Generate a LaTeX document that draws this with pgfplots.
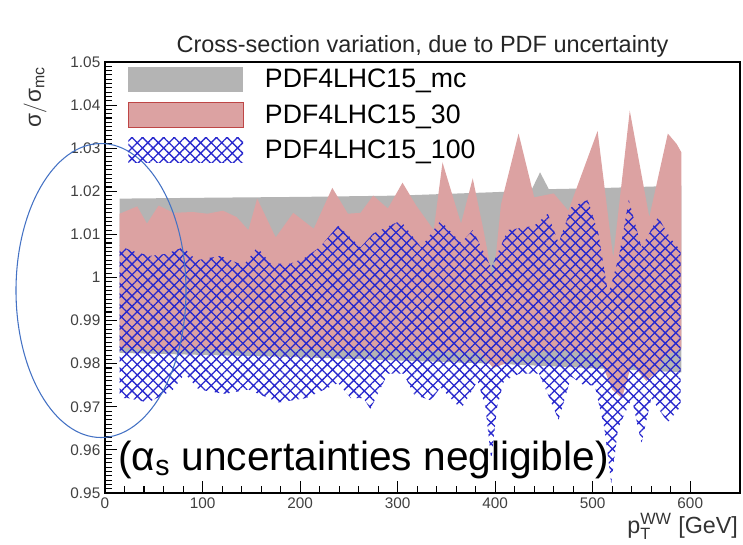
\documentclass[border=0pt]{standalone}
\usepackage{fontspec}
\setmainfont{Liberation Sans}
\usepackage{amsmath}
\usepackage{pgfplots}
\pgfplotsset{compat=1.18}
\usepgfplotslibrary{fillbetween}
\usetikzlibrary{patterns.meta}
\definecolor{mcgray}{RGB}{180,180,180}
\definecolor{pdfpink}{RGB}{220,162,162}
\definecolor{pdfred}{RGB}{190,70,70}
\definecolor{hatchblue}{RGB}{40,40,205}
\definecolor{ellblue}{RGB}{68,114,196}

\begin{document}
\begin{tikzpicture}
\begin{axis}[
  scale only axis, width=476.25pt, height=323.25pt,
  xmin=0, xmax=651, ymin=0.95, ymax=1.05,
  axis line style={line width=0.9pt},
  tick pos=left, tick align=inside,
  xtick={0,100,...,600}, minor x tick num=4,
  ytick={0.95,0.96,...,1.05}, minor y tick num=9,
  major tick length=9pt, minor tick length=5pt,
  every tick/.style={black, line width=0.8pt},
  tick label style={font=\fontsize{11.5}{13}\selectfont, text=black!75},
  /pgf/number format/assume math mode=true,
  yticklabel style={/pgf/number format/fixed, /pgf/number format/precision=2},
  title={Cross-section variation, due to PDF uncertainty},
  title style={at={(axis description cs:0.5,1)}, anchor=base, yshift=1.5pt, font=\fontsize{17.6}{19}\selectfont, text=black!85},
  xlabel={p$_{\text{T}}^{\text{WW}}$ [GeV]},
  xlabel style={at={(axis description cs:1,0)}, anchor=north east, yshift=-12pt, xshift=2pt, font=\fontsize{17.5}{19}\selectfont, text=black!80},
  ylabel={$\text{σ}/\text{σ}_{\text{mc}}$},
  ylabel style={at={(axis description cs:-0.11,1)}, anchor=east, rotate=0, font=\fontsize{17}{19}\selectfont, text=black!80},
  clip=false,
  legend style={at={(axis description cs:0,1)}, anchor=north west, xshift=17pt, yshift=-3pt,
    draw=none, fill=none, inner sep=0pt, row sep=7pt,
    font=\fontsize{20}{22}\selectfont,
    /tikz/every odd column/.append style={column sep=14pt}},
  legend cell align=left,
]
% ---------- PDF4LHC15_mc (grey) ----------
\addplot[name path=mcTop, draw=none, forget plot] coordinates {
(15,1.0183) (100,1.0185) (200,1.0187) (300,1.0190) (400,1.0198) (437,1.0202) (446,1.0244) (455,1.0205) (500,1.0207) (591,1.0213)};
\addplot[name path=mcBot, draw=none, forget plot] coordinates {
(15,0.9825) (200,0.9815) (400,0.9800) (591,0.9780)};
\addplot[fill=mcgray, draw=none,
  legend image code/.code={\path[fill=mcgray] (0pt,-9.5pt) rectangle (86pt,9.5pt);}]
  fill between[of=mcTop and mcBot];
\addlegendentry{PDF4LHC15\_mc}
% ---------- PDF4LHC15_30 (pink) ----------
\addplot[name path=p30Top, draw=none, forget plot] coordinates {
(15,1.0148) (33,1.0165) (43,1.0125) (55,1.0167) (70,1.0150) (90,1.0152) (105,1.0148) (121,1.0155) (135,1.0140) (147,1.0110) (156,1.0183) (175,1.0093) (193,1.0150) (214,1.0113) (233,1.0208) (249,1.0148) (262,1.0150) (275,1.0190) (290,1.0160) (305,1.0220) (319,1.0167) (337,1.0110) (346,1.0267) (365,1.0125) (377,1.0230) (388,1.0110) (398,0.9990) (406,1.0170) (424,1.0334) (440,1.0186) (460,1.0195) (475,1.0155) (505,1.0340) (521,1.0046) (538,1.0387) (558,1.0140) (577,1.0334) (586,1.0310) (591,1.0290)};
\addplot[name path=p30Bot, draw=none, forget plot] coordinates {
(15,0.9838) (60,0.9830) (100,0.9835) (150,0.9828) (200,0.9835) (250,0.9830) (300,0.9832) (350,0.9828) (385,0.9825) (398,0.9790) (410,0.9800) (420,0.9825) (470,0.9830) (505,0.9825) (520,0.9740) (530,0.9720) (540,0.9800) (555,0.9760) (565,0.9780) (575,0.9820) (591,0.9835)};
\addplot[fill=pdfpink, draw=none,
  legend image code/.code={\path[fill=pdfpink, draw=pdfred, line width=0.8pt] (0pt,-9.5pt) rectangle (86pt,9.5pt);}]
  fill between[of=p30Top and p30Bot];
\addlegendentry{PDF4LHC15\_30}
% ---------- PDF4LHC15_100 (blue hatch) ----------
\addplot[name path=p100Top, draw=none, forget plot] coordinates {
(15,1.0074) (26,1.0063) (46,1.0050) (63,1.0055) (80,1.0070) (94,1.0040) (118,1.0050) (142,1.0028) (156,1.0070) (170,1.0032) (190,1.0032) (205,1.0046) (220,1.0070) (239,1.0120) (262,1.0070) (275,1.0102) (303,1.0132) (324,1.0070) (344,1.0132) (365,1.0080) (377,1.0110) (396,1.0023) (413,1.0110) (440,1.0120) (454,1.0148) (465,1.0080) (478,1.0163) (495,1.0180) (506,1.0100) (516,0.9960) (527,1.0050) (537,1.0180) (550,1.0070) (567,1.0140) (580,1.0090) (590,1.0063)};
\addplot[name path=p100Bot, draw=none, forget plot] coordinates {
(15,0.9720) (24,0.9720) (44,0.9710) (69,0.9738) (82,0.9777) (96,0.9740) (123,0.9730) (147,0.9740) (178,0.9710) (206,0.9720) (239,0.9755) (252,0.9720) (265,0.9720) (272,0.9695) (290,0.9777) (306,0.9777) (317,0.9728) (334,0.9715) (344,0.9745) (365,0.9695) (382,0.9760) (390,0.9700) (396,0.9575) (402,0.9700) (409,0.9760) (425,0.9777) (445,0.9777) (465,0.9670) (478,0.9770) (491,0.9750) (502,0.9750) (512,0.9650) (519,0.9522) (526,0.9650) (540,0.9720) (550,0.9615) (560,0.9720) (577,0.9664) (590,0.9700)};
\addplot[draw=none, pattern={Hatch[angle=45,distance=5.6pt,line width=1pt]}, pattern color=hatchblue,
  legend image code/.code={\path[pattern={Hatch[angle=45,distance=5.6pt,line width=1pt]}, pattern color=hatchblue] (0pt,-9.5pt) rectangle (86pt,9.5pt);}]
  fill between[of=p100Top and p100Bot];
\addlegendentry{PDF4LHC15\_100}
% ---------- annotations ----------
\draw[ellblue, line width=0.8pt] (axis cs:-4.1,0.99698) ellipse [x radius=63.75pt, y radius=110.25pt];
\node[anchor=base west, inner sep=0pt, font=\fontsize{30.5}{32}\selectfont] at (axis cs:13.4,0.9552) {(α\textsubscript{s} uncertainties negligible)};
\end{axis}
\pgfresetboundingbox
\path[use as bounding box] (-78.75pt,-38.25pt) rectangle (478.5pt,369.75pt);
\end{tikzpicture}
\end{document}
